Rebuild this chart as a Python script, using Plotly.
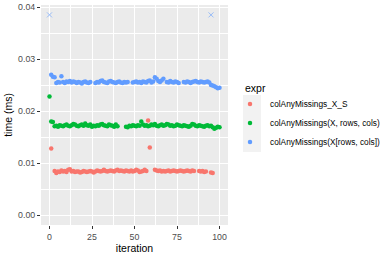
import plotly.graph_objects as go

series_names = ["colAnyMissings_X_S", "colAnyMissings(X, rows, cols)", "colAnyMissings(X[rows, cols])"]
series_colors = ["#F8766D", "#00BA38", "#619CFF"]

red_x = [1,
         3, 4, 5, 6, 7, 8, 9, 10, 11, 12, 13,
         14, 15, 16, 17, 18, 19, 20, 21, 22, 23, 24,
         25, 26, 27, 28, 29, 30, 31, 32, 33, 34, 35,
         36, 37, 38, 39, 40, 41, 42, 43, 44, 45, 46,
         47, 48, 49, 50, 51, 52, 53, 54, 55, 56, 57,
         58, 59,
         62, 63, 64, 65, 66, 67, 68, 69, 70, 71, 72, 73,
         74, 75, 76, 77, 78, 79, 80, 81, 82, 83, 84, 85,
         88, 89, 90, 91, 92,
         95, 96]
red_y = [0.0128,
         0.0085, 0.0081, 0.0084, 0.0083, 0.0086, 0.0084, 0.0085, 0.0083, 0.0087, 0.0088, 0.0084,
         0.0085, 0.0083, 0.0084, 0.0084, 0.0082, 0.0083, 0.0085, 0.0084, 0.0083, 0.0084, 0.0085,
         0.0084, 0.0082, 0.0084, 0.0086, 0.0085, 0.0084, 0.0085, 0.0087, 0.0085, 0.0084, 0.0085,
         0.0086, 0.0085, 0.0084, 0.0086, 0.0087, 0.0085, 0.0086, 0.0085, 0.0084, 0.0086, 0.0085,
         0.0084, 0.0086, 0.0084, 0.0085, 0.0087, 0.0086, 0.0083, 0.0084, 0.0085, 0.0087, 0.0085,
         0.0182, 0.0130,
         0.0087, 0.0086, 0.0085, 0.0086, 0.0084, 0.0085, 0.0084, 0.0085, 0.0086, 0.0084, 0.0085, 0.0086,
         0.0085, 0.0084, 0.0085, 0.0086, 0.0085, 0.0084, 0.0085, 0.0086, 0.0085, 0.0084, 0.0086, 0.0085,
         0.0085, 0.0084, 0.0085, 0.0083, 0.0084,
         0.0082, 0.0081]

green_x = [0, 1,
           2, 3, 4, 5, 6, 7, 8, 9, 10, 11, 12, 13, 14,
           15, 16, 17, 18, 19, 20, 21, 22, 23, 24, 25, 26, 27,
           28, 29, 30, 31, 32, 33, 34, 35, 36, 37, 38, 39, 40,
           45, 46, 47, 48, 49, 50, 51, 52, 53, 54, 55, 56, 57,
           58, 59, 60, 61, 62, 63, 64, 65, 66, 67, 68, 69, 70,
           71, 72, 73, 74, 75, 76, 77, 78, 79, 80, 81, 82, 83,
           84, 85, 86, 87, 88, 89, 90, 91, 92, 93, 94, 95, 96,
           97, 98, 99, 100]
green_y = [0.0228, 0.0180,
           0.0179, 0.0171, 0.0172, 0.0170, 0.0173, 0.0172, 0.0171, 0.0173, 0.0174, 0.0172, 0.0171, 0.0173, 0.0175,
           0.0174, 0.0172, 0.0171, 0.0173, 0.0174, 0.0172, 0.0176, 0.0173, 0.0172, 0.0174, 0.0170, 0.0172, 0.0171,
           0.0173, 0.0172, 0.0174, 0.0175, 0.0173, 0.0172, 0.0171, 0.0174, 0.0173, 0.0172, 0.0170, 0.0174, 0.0171,
           0.0170, 0.0169, 0.0172, 0.0171, 0.0173, 0.0172, 0.0171, 0.0173, 0.0172, 0.0180, 0.0174, 0.0172, 0.0173,
           0.0171, 0.0172, 0.0174, 0.0173, 0.0175, 0.0172, 0.0171, 0.0173, 0.0174, 0.0172, 0.0173, 0.0175, 0.0174,
           0.0172, 0.0173, 0.0171, 0.0172, 0.0174, 0.0173, 0.0172, 0.0171, 0.0173, 0.0172, 0.0171, 0.0170, 0.0172,
           0.0175, 0.0174, 0.0172, 0.0171, 0.0173, 0.0172, 0.0171, 0.0170, 0.0172, 0.0173, 0.0171, 0.0172, 0.0169,
           0.0166, 0.0168, 0.0170, 0.0169]

blue_x = [1, 2, 3, 4, 5, 6, 7, 8, 9, 10, 11, 12,
          13, 14, 15, 16, 17, 18, 19, 20, 21, 22, 23, 24,
          27, 28, 29, 30, 31, 32, 33, 34, 35, 36, 37, 38,
          39, 40, 41, 42, 43, 44, 45, 46, 49, 50, 51, 52,
          53, 54, 55, 56, 57, 58, 59, 60, 61, 62, 63, 64,
          65, 66, 67, 69, 70, 71, 72, 73, 74, 75, 76, 79,
          80, 81, 82, 83, 84, 85, 86, 87, 88, 89, 90, 91,
          92, 93, 94, 95, 96, 97, 98, 99, 100]
blue_y = [0.0270, 0.0266, 0.0265, 0.0254, 0.0256, 0.0255, 0.0267, 0.0256, 0.0254, 0.0257, 0.0256, 0.0258,
          0.0255, 0.0257, 0.0256, 0.0254, 0.0256, 0.0255, 0.0253, 0.0256, 0.0257, 0.0255, 0.0254, 0.0256,
          0.0254, 0.0256, 0.0255, 0.0258, 0.0259, 0.0256, 0.0255, 0.0254, 0.0257, 0.0258, 0.0256, 0.0255,
          0.0254, 0.0256, 0.0257, 0.0255, 0.0254, 0.0256, 0.0255, 0.0256, 0.0255, 0.0256, 0.0257, 0.0255,
          0.0256, 0.0254, 0.0257, 0.0256, 0.0255, 0.0258, 0.0259, 0.0255, 0.0257, 0.0265, 0.0262, 0.0258,
          0.0256, 0.0259, 0.0262, 0.0256, 0.0255, 0.0258, 0.0256, 0.0255, 0.0257, 0.0256, 0.0254, 0.0256,
          0.0255, 0.0257, 0.0256, 0.0254, 0.0256, 0.0257, 0.0258, 0.0256, 0.0255, 0.0257, 0.0256, 0.0255,
          0.0256, 0.0257, 0.0255, 0.0250, 0.0249, 0.0248, 0.0246, 0.0244, 0.0245]

outlier_x = [0, 95]
outlier_y = [0.0385, 0.0385]

x_ticks = [0, 25, 50, 75, 100]
y_ticks = [0.00, 0.01, 0.02, 0.03, 0.04]
y_tick_labels = ["0.00", "0.01", "0.02", "0.03", "0.04"]
legend_title = "expr"

FONT = "Liberation Sans, Arial, sans-serif"
PW, PL, PB, PH = 187, 41, 225, 220

fig = go.Figure()
for name, color, xs, ys in zip(series_names, series_colors,
                               [red_x, green_x, blue_x], [red_y, green_y, blue_y]):
    fig.add_trace(go.Scatter(x=xs, y=ys, mode="markers", name=name,
                             marker=dict(color=color, size=4.5, line=dict(width=0))))

fig.add_trace(go.Scatter(x=outlier_x, y=outlier_y, mode="markers", showlegend=False,
                         marker=dict(symbol="x-thin-open", color=series_colors[2], size=5,
                                     opacity=0.6, line=dict(width=1, color=series_colors[2]))))

# legend key background
fig.add_shape(type="rect", xref="paper", yref="paper",
              x0=(243 - PL) / PW, x1=(261 - PL) / PW,
              y0=(PB - 152) / PH, y1=(PB - 95) / PH,
              fillcolor="#F2F2F2", line=dict(width=0), layer="below")

fig.add_annotation(text=legend_title, xref="paper", yref="paper",
                   x=(243 - PL) / PW, y=(PB - 88) / PH, xanchor="left", yanchor="middle",
                   showarrow=False, font=dict(size=10.5, color="black", family=FONT))

fig.update_layout(
    width=390, height=260,
    margin=dict(l=PL, r=390 - PL - PW, t=5, b=260 - PB, autoexpand=False),
    paper_bgcolor="white", plot_bgcolor="#EBEBEB",
    font=dict(family=FONT, size=8.8, color="#4D4D4D"),
    legend=dict(x=(230 - PL) / PW, y=(PB - 123) / PH, xanchor="left", yanchor="middle",
                font=dict(size=8.3, color="black"), bgcolor="rgba(0,0,0,0)",
                itemwidth=30, tracegroupgap=0),
    xaxis=dict(range=[-5, 105], tickvals=x_ticks, ticktext=[str(v) for v in x_ticks],
               showgrid=True, gridcolor="white", gridwidth=1, zeroline=False,
               ticks="outside", ticklen=3, tickcolor="#333333", tickwidth=1,
               tickfont=dict(size=8.8, color="#4D4D4D"),
               minor=dict(dtick=12.5, tick0=0, showgrid=True, gridcolor="white", gridwidth=0.5),
               title=dict(text="iteration", font=dict(size=10.5, color="black"), standoff=3)),
    yaxis=dict(range=[-0.0019, 0.0404], tickvals=y_ticks, ticktext=y_tick_labels,
               showgrid=True, gridcolor="white", gridwidth=1, zeroline=False,
               ticks="outside", ticklen=3, tickcolor="#333333", tickwidth=1,
               tickfont=dict(size=8.8, color="#4D4D4D"),
               minor=dict(dtick=0.005, tick0=0, showgrid=True, gridcolor="white", gridwidth=0.5),
               title=dict(text="time (ms)", font=dict(size=10.5, color="black"), standoff=3)),
)

fig.write_html("out.html")
